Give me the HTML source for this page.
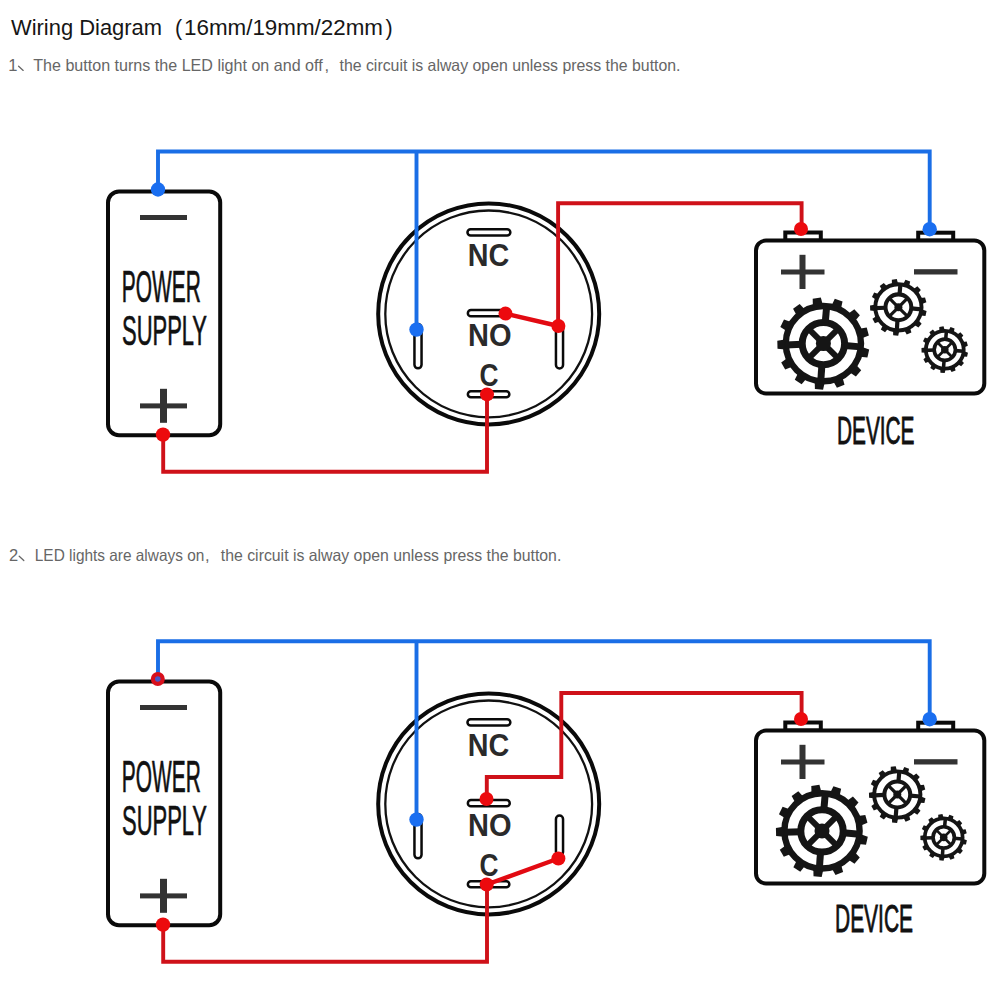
<!DOCTYPE html>
<html><head><meta charset="utf-8">
<style>
html,body{margin:0;padding:0;background:#fff;}
body{width:1000px;height:1000px;position:relative;overflow:hidden;font-family:"Liberation Sans",sans-serif;}
svg{position:absolute;left:0;top:0;}
svg text{font-family:"Liberation Sans",sans-serif;}
</style></head>
<body>
<svg width="1000" height="1000" viewBox="0 0 1000 1000">


<!-- header -->
<g fill="#161616" font-size="21.5">
  <text x="11" y="35" textLength="151" lengthAdjust="spacingAndGlyphs">Wiring Diagram</text>
  <text x="175" y="35">(</text>
  <text x="184" y="35" textLength="199" lengthAdjust="spacingAndGlyphs">16mm/19mm/22mm</text>
  <text x="385.5" y="35">)</text>
</g>
<g fill="#666" font-size="16.5">
  <text x="8.3" y="70.6">1</text>
  <text x="33.2" y="70.6" textLength="289.5" lengthAdjust="spacingAndGlyphs">The button turns the LED light on and off</text>
  <text x="324.5" y="70.6">,</text>
  <text x="339.5" y="70.6" textLength="341" lengthAdjust="spacingAndGlyphs">the circuit is alway open unless press the button.</text>
  <text x="9" y="560.7">2</text>
  <text x="34.8" y="560.7" textLength="169.5" lengthAdjust="spacingAndGlyphs">LED lights are always on</text>
  <text x="205" y="560.7">,</text>
  <text x="220.8" y="560.7" textLength="340.5" lengthAdjust="spacingAndGlyphs">the circuit is alway open unless press the button.</text>
</g>
<g stroke="#666" stroke-width="1.3" stroke-linecap="round" fill="none">
  <path d="M18.6,66.2 L23.2,70.4"/>
  <path d="M19.2,556.3 L23.8,560.5"/>
</g>

<!-- ============ DIAGRAM 1 ============ -->
<g>
  <rect x="108" y="191.5" width="112.2" height="243.7" rx="11" fill="none" stroke="#0a0a0a" stroke-width="4"/>
  <rect x="140" y="215" width="47" height="5" fill="#333"/>
  <rect x="140" y="403.4" width="47" height="5" fill="#333"/>
  <rect x="160" y="388.8" width="7" height="34" fill="#333"/>
  <text x="121.8" y="301.6" font-size="44.5" textLength="79" lengthAdjust="spacingAndGlyphs" fill="#111" stroke="#111" stroke-width="0.7">POWER</text>
  <text x="122" y="345.2" font-size="43" textLength="85" lengthAdjust="spacingAndGlyphs" fill="#111" stroke="#111" stroke-width="0.7">SUPPLY</text>
</g>
<g>
  <circle cx="488.7" cy="313.9" r="110.5" fill="none" stroke="#0a0a0a" stroke-width="4"/>
  <circle cx="488.7" cy="313.9" r="103.4" fill="none" stroke="#111" stroke-width="2.3"/>
  <rect x="467.45" y="229.15" width="42.9" height="6.4" rx="3.2" fill="#fff" stroke="#0a0a0a" stroke-width="2.5"/>
  <rect x="467.85" y="310.05" width="41.9" height="6.3" rx="3.15" fill="#fff" stroke="#0a0a0a" stroke-width="2.5"/>
  <rect x="467.85" y="391.25" width="41.5" height="6" rx="3" fill="#fff" stroke="#0a0a0a" stroke-width="2.5"/>
  <rect x="414.45" y="324" width="7.1" height="44.3" rx="3.55" fill="#fff" stroke="#0a0a0a" stroke-width="2.5"/>
  <text x="467.8" y="266.2" font-size="31" font-weight="bold" textLength="41.5" lengthAdjust="spacingAndGlyphs" fill="#2a2a2a">NC</text>
  <text x="468" y="345.7" font-size="31" font-weight="bold" textLength="43.5" lengthAdjust="spacingAndGlyphs" fill="#2a2a2a">NO</text>
  <text x="479.6" y="385.5" font-size="31" font-weight="bold" textLength="19" lengthAdjust="spacingAndGlyphs" fill="#2a2a2a">C</text>
</g>
<rect x="555.95" y="322" width="7.1" height="46.5" rx="3.55" fill="#fff" stroke="#0a0a0a" stroke-width="2.5"/>
<g>
  <rect x="785.3" y="232.5" width="35.5" height="8" fill="#fff" stroke="#0a0a0a" stroke-width="4"/>
  <rect x="918.2" y="232.7" width="35" height="8" fill="#fff" stroke="#0a0a0a" stroke-width="4"/>
  <rect x="756" y="240.5" width="228.3" height="153" rx="10" fill="#fff" stroke="#0a0a0a" stroke-width="4"/>
  <rect x="781" y="269.5" width="43.5" height="5" fill="#333"/>
  <rect x="799.5" y="254.8" width="6" height="34.2" fill="#333"/>
  <rect x="914" y="269.2" width="43.5" height="5.3" fill="#333"/>
</g>
<g transform="translate(823.4,343.6)" fill="#151515">
<circle r="37.6" fill="none" stroke="#151515" stroke-width="6.4"/>
<circle r="21.2" fill="none" stroke="#151515" stroke-width="7.0"/>
<path d="M-5.00,-38.50 L-4.10,-46.00 L4.10,-46.00 L5.00,-38.50 Z" transform="rotate(-8.3)"/>
<path d="M-5.00,-38.50 L-4.10,-46.00 L4.10,-46.00 L5.00,-38.50 Z" transform="rotate(19.4)"/>
<path d="M-5.00,-38.50 L-4.10,-46.00 L4.10,-46.00 L5.00,-38.50 Z" transform="rotate(47.1)"/>
<path d="M-5.00,-38.50 L-4.10,-46.00 L4.10,-46.00 L5.00,-38.50 Z" transform="rotate(74.8)"/>
<path d="M-5.00,-38.50 L-4.10,-46.00 L4.10,-46.00 L5.00,-38.50 Z" transform="rotate(102.5)"/>
<path d="M-5.00,-38.50 L-4.10,-46.00 L4.10,-46.00 L5.00,-38.50 Z" transform="rotate(130.2)"/>
<path d="M-5.00,-38.50 L-4.10,-46.00 L4.10,-46.00 L5.00,-38.50 Z" transform="rotate(157.9)"/>
<path d="M-5.00,-38.50 L-4.10,-46.00 L4.10,-46.00 L5.00,-38.50 Z" transform="rotate(185.5)"/>
<path d="M-5.00,-38.50 L-4.10,-46.00 L4.10,-46.00 L5.00,-38.50 Z" transform="rotate(213.2)"/>
<path d="M-5.00,-38.50 L-4.10,-46.00 L4.10,-46.00 L5.00,-38.50 Z" transform="rotate(240.9)"/>
<path d="M-5.00,-38.50 L-4.10,-46.00 L4.10,-46.00 L5.00,-38.50 Z" transform="rotate(268.6)"/>
<path d="M-5.00,-38.50 L-4.10,-46.00 L4.10,-46.00 L5.00,-38.50 Z" transform="rotate(296.3)"/>
<path d="M-5.00,-38.50 L-4.10,-46.00 L4.10,-46.00 L5.00,-38.50 Z" transform="rotate(324.0)"/>
<rect x="-3.5" y="-37.6" width="7" height="16.400000000000002" transform="rotate(5)"/>
<rect x="-3.5" y="-37.6" width="7" height="16.400000000000002" transform="rotate(95)"/>
<rect x="-3.5" y="-37.6" width="7" height="16.400000000000002" transform="rotate(184)"/>
<rect x="-3.5" y="-37.6" width="7" height="16.400000000000002" transform="rotate(268)"/>
<rect x="-3.0" y="-21.2" width="6.0" height="21.2" transform="rotate(45)"/>
<rect x="-3.0" y="-21.2" width="6.0" height="21.2" transform="rotate(135)"/>
<rect x="-3.0" y="-21.2" width="6.0" height="21.2" transform="rotate(225)"/>
<rect x="-3.0" y="-21.2" width="6.0" height="21.2" transform="rotate(315)"/>
<circle r="7.5"/>
</g>
<g transform="translate(898.4,307.3) scale(0.615)" fill="#151515">
<circle r="37.6" fill="none" stroke="#151515" stroke-width="6.4"/>
<circle r="21.0" fill="none" stroke="#151515" stroke-width="6.6"/>
<path d="M-5.00,-38.50 L-4.10,-46.00 L4.10,-46.00 L5.00,-38.50 Z" transform="rotate(-8.3)"/>
<path d="M-5.00,-38.50 L-4.10,-46.00 L4.10,-46.00 L5.00,-38.50 Z" transform="rotate(19.4)"/>
<path d="M-5.00,-38.50 L-4.10,-46.00 L4.10,-46.00 L5.00,-38.50 Z" transform="rotate(47.1)"/>
<path d="M-5.00,-38.50 L-4.10,-46.00 L4.10,-46.00 L5.00,-38.50 Z" transform="rotate(74.8)"/>
<path d="M-5.00,-38.50 L-4.10,-46.00 L4.10,-46.00 L5.00,-38.50 Z" transform="rotate(102.5)"/>
<path d="M-5.00,-38.50 L-4.10,-46.00 L4.10,-46.00 L5.00,-38.50 Z" transform="rotate(130.2)"/>
<path d="M-5.00,-38.50 L-4.10,-46.00 L4.10,-46.00 L5.00,-38.50 Z" transform="rotate(157.9)"/>
<path d="M-5.00,-38.50 L-4.10,-46.00 L4.10,-46.00 L5.00,-38.50 Z" transform="rotate(185.5)"/>
<path d="M-5.00,-38.50 L-4.10,-46.00 L4.10,-46.00 L5.00,-38.50 Z" transform="rotate(213.2)"/>
<path d="M-5.00,-38.50 L-4.10,-46.00 L4.10,-46.00 L5.00,-38.50 Z" transform="rotate(240.9)"/>
<path d="M-5.00,-38.50 L-4.10,-46.00 L4.10,-46.00 L5.00,-38.50 Z" transform="rotate(268.6)"/>
<path d="M-5.00,-38.50 L-4.10,-46.00 L4.10,-46.00 L5.00,-38.50 Z" transform="rotate(296.3)"/>
<path d="M-5.00,-38.50 L-4.10,-46.00 L4.10,-46.00 L5.00,-38.50 Z" transform="rotate(324.0)"/>
<rect x="-3.4" y="-37.6" width="6.8" height="16.6" transform="rotate(5)"/>
<rect x="-3.4" y="-37.6" width="6.8" height="16.6" transform="rotate(95)"/>
<rect x="-3.4" y="-37.6" width="6.8" height="16.6" transform="rotate(184)"/>
<rect x="-3.4" y="-37.6" width="6.8" height="16.6" transform="rotate(268)"/>
<rect x="-2.6" y="-21.0" width="5.2" height="21.0" transform="rotate(45)"/>
<rect x="-2.6" y="-21.0" width="5.2" height="21.0" transform="rotate(135)"/>
<rect x="-2.6" y="-21.0" width="5.2" height="21.0" transform="rotate(225)"/>
<rect x="-2.6" y="-21.0" width="5.2" height="21.0" transform="rotate(315)"/>
<circle r="6.5"/>
</g>
<g transform="translate(944.8,349.7) scale(0.506)" fill="#151515">
<circle r="37.4" fill="none" stroke="#151515" stroke-width="7.4"/>
<circle r="21.0" fill="none" stroke="#151515" stroke-width="7.2"/>
<path d="M-5.25,-38.50 L-4.25,-46.00 L4.25,-46.00 L5.25,-38.50 Z" transform="rotate(-8.3)"/>
<path d="M-5.25,-38.50 L-4.25,-46.00 L4.25,-46.00 L5.25,-38.50 Z" transform="rotate(19.4)"/>
<path d="M-5.25,-38.50 L-4.25,-46.00 L4.25,-46.00 L5.25,-38.50 Z" transform="rotate(47.1)"/>
<path d="M-5.25,-38.50 L-4.25,-46.00 L4.25,-46.00 L5.25,-38.50 Z" transform="rotate(74.8)"/>
<path d="M-5.25,-38.50 L-4.25,-46.00 L4.25,-46.00 L5.25,-38.50 Z" transform="rotate(102.5)"/>
<path d="M-5.25,-38.50 L-4.25,-46.00 L4.25,-46.00 L5.25,-38.50 Z" transform="rotate(130.2)"/>
<path d="M-5.25,-38.50 L-4.25,-46.00 L4.25,-46.00 L5.25,-38.50 Z" transform="rotate(157.9)"/>
<path d="M-5.25,-38.50 L-4.25,-46.00 L4.25,-46.00 L5.25,-38.50 Z" transform="rotate(185.5)"/>
<path d="M-5.25,-38.50 L-4.25,-46.00 L4.25,-46.00 L5.25,-38.50 Z" transform="rotate(213.2)"/>
<path d="M-5.25,-38.50 L-4.25,-46.00 L4.25,-46.00 L5.25,-38.50 Z" transform="rotate(240.9)"/>
<path d="M-5.25,-38.50 L-4.25,-46.00 L4.25,-46.00 L5.25,-38.50 Z" transform="rotate(268.6)"/>
<path d="M-5.25,-38.50 L-4.25,-46.00 L4.25,-46.00 L5.25,-38.50 Z" transform="rotate(296.3)"/>
<path d="M-5.25,-38.50 L-4.25,-46.00 L4.25,-46.00 L5.25,-38.50 Z" transform="rotate(324.0)"/>
<rect x="-3.5" y="-37.4" width="7" height="16.4" transform="rotate(5)"/>
<rect x="-3.5" y="-37.4" width="7" height="16.4" transform="rotate(95)"/>
<rect x="-3.5" y="-37.4" width="7" height="16.4" transform="rotate(184)"/>
<rect x="-3.5" y="-37.4" width="7" height="16.4" transform="rotate(268)"/>
<rect x="-2.7" y="-21.0" width="5.4" height="21.0" transform="rotate(45)"/>
<rect x="-2.7" y="-21.0" width="5.4" height="21.0" transform="rotate(135)"/>
<rect x="-2.7" y="-21.0" width="5.4" height="21.0" transform="rotate(225)"/>
<rect x="-2.7" y="-21.0" width="5.4" height="21.0" transform="rotate(315)"/>
<circle r="7.5"/>
</g>
<text x="837" y="444" font-size="39" textLength="77.5" lengthAdjust="spacingAndGlyphs" fill="#111" stroke="#111" stroke-width="0.9">DEVICE</text>

<g fill="none" stroke-width="3.9" stroke-linejoin="miter">
  <polyline points="158,189.5 158,151.5 929.7,151.5 929.7,229" stroke="#1a6ee6"/>
  <polyline points="416.5,151.5 416.5,329.6" stroke="#1a6ee6"/>
  <polyline points="163.2,434.6 163.2,471.8 487,471.8 487,394.4" stroke="#cf1119"/>
  <polyline points="558.1,326 558.1,203.2 801.6,203.2 801.6,229" stroke="#cf1119"/>
  <polyline points="505.5,313.6 558.4,326" stroke="#e20a12" stroke-width="4.5"/>
</g>
<g fill="#1a6ef0">
  <circle cx="158" cy="189.5" r="7.2"/>
  <circle cx="416.5" cy="329.6" r="7.2"/>
  <circle cx="929.7" cy="229.2" r="7.2"/>
</g>
<g fill="#ec0a0e">
  <circle cx="163" cy="434.6" r="7.2"/>
  <circle cx="487" cy="394.4" r="7"/>
  <circle cx="505.5" cy="313.6" r="7"/>
  <circle cx="558.4" cy="326" r="7"/>
  <circle cx="801" cy="229" r="7"/>
</g>

<!-- ============ DIAGRAM 2 ============ -->
<g transform="translate(0,490)">
  <g>
  <rect x="108" y="191.5" width="112.2" height="243.7" rx="11" fill="none" stroke="#0a0a0a" stroke-width="4"/>
  <rect x="140" y="215" width="47" height="5" fill="#333"/>
  <rect x="140" y="403.4" width="47" height="5" fill="#333"/>
  <rect x="160" y="388.8" width="7" height="34" fill="#333"/>
  <text x="121.8" y="301.6" font-size="44.5" textLength="79" lengthAdjust="spacingAndGlyphs" fill="#111" stroke="#111" stroke-width="0.7">POWER</text>
  <text x="122" y="345.2" font-size="43" textLength="85" lengthAdjust="spacingAndGlyphs" fill="#111" stroke="#111" stroke-width="0.7">SUPPLY</text>
</g>
  <g>
  <circle cx="488.7" cy="313.9" r="110.5" fill="none" stroke="#0a0a0a" stroke-width="4"/>
  <circle cx="488.7" cy="313.9" r="103.4" fill="none" stroke="#111" stroke-width="2.3"/>
  <rect x="467.45" y="229.15" width="42.9" height="6.4" rx="3.2" fill="#fff" stroke="#0a0a0a" stroke-width="2.5"/>
  <rect x="467.85" y="310.05" width="41.9" height="6.3" rx="3.15" fill="#fff" stroke="#0a0a0a" stroke-width="2.5"/>
  <rect x="467.85" y="391.25" width="41.5" height="6" rx="3" fill="#fff" stroke="#0a0a0a" stroke-width="2.5"/>
  <rect x="414.45" y="324" width="7.1" height="44.3" rx="3.55" fill="#fff" stroke="#0a0a0a" stroke-width="2.5"/>
  <text x="467.8" y="266.2" font-size="31" font-weight="bold" textLength="41.5" lengthAdjust="spacingAndGlyphs" fill="#2a2a2a">NC</text>
  <text x="468" y="345.7" font-size="31" font-weight="bold" textLength="43.5" lengthAdjust="spacingAndGlyphs" fill="#2a2a2a">NO</text>
  <text x="479.6" y="385.5" font-size="31" font-weight="bold" textLength="19" lengthAdjust="spacingAndGlyphs" fill="#2a2a2a">C</text>
</g>
  <rect x="555.95" y="325.5" width="7.1" height="40" rx="3.55" fill="#fff" stroke="#0a0a0a" stroke-width="2.5"/>
  <g>
  <rect x="785.3" y="232.5" width="35.5" height="8" fill="#fff" stroke="#0a0a0a" stroke-width="4"/>
  <rect x="918.2" y="232.7" width="35" height="8" fill="#fff" stroke="#0a0a0a" stroke-width="4"/>
  <rect x="756" y="240.5" width="228.3" height="153" rx="10" fill="#fff" stroke="#0a0a0a" stroke-width="4"/>
  <rect x="781" y="269.5" width="43.5" height="5" fill="#333"/>
  <rect x="799.5" y="254.8" width="6" height="34.2" fill="#333"/>
  <rect x="914" y="269.2" width="43.5" height="5.3" fill="#333"/>
</g>
</g>
<g transform="translate(822,830.9)" fill="#151515">
<circle r="37.6" fill="none" stroke="#151515" stroke-width="6.4"/>
<circle r="21.2" fill="none" stroke="#151515" stroke-width="7.0"/>
<path d="M-5.00,-38.50 L-4.10,-46.00 L4.10,-46.00 L5.00,-38.50 Z" transform="rotate(-8.3)"/>
<path d="M-5.00,-38.50 L-4.10,-46.00 L4.10,-46.00 L5.00,-38.50 Z" transform="rotate(19.4)"/>
<path d="M-5.00,-38.50 L-4.10,-46.00 L4.10,-46.00 L5.00,-38.50 Z" transform="rotate(47.1)"/>
<path d="M-5.00,-38.50 L-4.10,-46.00 L4.10,-46.00 L5.00,-38.50 Z" transform="rotate(74.8)"/>
<path d="M-5.00,-38.50 L-4.10,-46.00 L4.10,-46.00 L5.00,-38.50 Z" transform="rotate(102.5)"/>
<path d="M-5.00,-38.50 L-4.10,-46.00 L4.10,-46.00 L5.00,-38.50 Z" transform="rotate(130.2)"/>
<path d="M-5.00,-38.50 L-4.10,-46.00 L4.10,-46.00 L5.00,-38.50 Z" transform="rotate(157.9)"/>
<path d="M-5.00,-38.50 L-4.10,-46.00 L4.10,-46.00 L5.00,-38.50 Z" transform="rotate(185.5)"/>
<path d="M-5.00,-38.50 L-4.10,-46.00 L4.10,-46.00 L5.00,-38.50 Z" transform="rotate(213.2)"/>
<path d="M-5.00,-38.50 L-4.10,-46.00 L4.10,-46.00 L5.00,-38.50 Z" transform="rotate(240.9)"/>
<path d="M-5.00,-38.50 L-4.10,-46.00 L4.10,-46.00 L5.00,-38.50 Z" transform="rotate(268.6)"/>
<path d="M-5.00,-38.50 L-4.10,-46.00 L4.10,-46.00 L5.00,-38.50 Z" transform="rotate(296.3)"/>
<path d="M-5.00,-38.50 L-4.10,-46.00 L4.10,-46.00 L5.00,-38.50 Z" transform="rotate(324.0)"/>
<rect x="-3.5" y="-37.6" width="7" height="16.400000000000002" transform="rotate(5)"/>
<rect x="-3.5" y="-37.6" width="7" height="16.400000000000002" transform="rotate(95)"/>
<rect x="-3.5" y="-37.6" width="7" height="16.400000000000002" transform="rotate(184)"/>
<rect x="-3.5" y="-37.6" width="7" height="16.400000000000002" transform="rotate(268)"/>
<rect x="-3.0" y="-21.2" width="6.0" height="21.2" transform="rotate(45)"/>
<rect x="-3.0" y="-21.2" width="6.0" height="21.2" transform="rotate(135)"/>
<rect x="-3.0" y="-21.2" width="6.0" height="21.2" transform="rotate(225)"/>
<rect x="-3.0" y="-21.2" width="6.0" height="21.2" transform="rotate(315)"/>
<circle r="7.5"/>
</g>
<g transform="translate(897.3,794.5) scale(0.615)" fill="#151515">
<circle r="37.6" fill="none" stroke="#151515" stroke-width="6.4"/>
<circle r="21.0" fill="none" stroke="#151515" stroke-width="6.6"/>
<path d="M-5.00,-38.50 L-4.10,-46.00 L4.10,-46.00 L5.00,-38.50 Z" transform="rotate(-8.3)"/>
<path d="M-5.00,-38.50 L-4.10,-46.00 L4.10,-46.00 L5.00,-38.50 Z" transform="rotate(19.4)"/>
<path d="M-5.00,-38.50 L-4.10,-46.00 L4.10,-46.00 L5.00,-38.50 Z" transform="rotate(47.1)"/>
<path d="M-5.00,-38.50 L-4.10,-46.00 L4.10,-46.00 L5.00,-38.50 Z" transform="rotate(74.8)"/>
<path d="M-5.00,-38.50 L-4.10,-46.00 L4.10,-46.00 L5.00,-38.50 Z" transform="rotate(102.5)"/>
<path d="M-5.00,-38.50 L-4.10,-46.00 L4.10,-46.00 L5.00,-38.50 Z" transform="rotate(130.2)"/>
<path d="M-5.00,-38.50 L-4.10,-46.00 L4.10,-46.00 L5.00,-38.50 Z" transform="rotate(157.9)"/>
<path d="M-5.00,-38.50 L-4.10,-46.00 L4.10,-46.00 L5.00,-38.50 Z" transform="rotate(185.5)"/>
<path d="M-5.00,-38.50 L-4.10,-46.00 L4.10,-46.00 L5.00,-38.50 Z" transform="rotate(213.2)"/>
<path d="M-5.00,-38.50 L-4.10,-46.00 L4.10,-46.00 L5.00,-38.50 Z" transform="rotate(240.9)"/>
<path d="M-5.00,-38.50 L-4.10,-46.00 L4.10,-46.00 L5.00,-38.50 Z" transform="rotate(268.6)"/>
<path d="M-5.00,-38.50 L-4.10,-46.00 L4.10,-46.00 L5.00,-38.50 Z" transform="rotate(296.3)"/>
<path d="M-5.00,-38.50 L-4.10,-46.00 L4.10,-46.00 L5.00,-38.50 Z" transform="rotate(324.0)"/>
<rect x="-3.4" y="-37.6" width="6.8" height="16.6" transform="rotate(5)"/>
<rect x="-3.4" y="-37.6" width="6.8" height="16.6" transform="rotate(95)"/>
<rect x="-3.4" y="-37.6" width="6.8" height="16.6" transform="rotate(184)"/>
<rect x="-3.4" y="-37.6" width="6.8" height="16.6" transform="rotate(268)"/>
<rect x="-2.6" y="-21.0" width="5.2" height="21.0" transform="rotate(45)"/>
<rect x="-2.6" y="-21.0" width="5.2" height="21.0" transform="rotate(135)"/>
<rect x="-2.6" y="-21.0" width="5.2" height="21.0" transform="rotate(225)"/>
<rect x="-2.6" y="-21.0" width="5.2" height="21.0" transform="rotate(315)"/>
<circle r="6.5"/>
</g>
<g transform="translate(943.7,837.4) scale(0.506)" fill="#151515">
<circle r="37.4" fill="none" stroke="#151515" stroke-width="7.4"/>
<circle r="21.0" fill="none" stroke="#151515" stroke-width="7.2"/>
<path d="M-5.25,-38.50 L-4.25,-46.00 L4.25,-46.00 L5.25,-38.50 Z" transform="rotate(-8.3)"/>
<path d="M-5.25,-38.50 L-4.25,-46.00 L4.25,-46.00 L5.25,-38.50 Z" transform="rotate(19.4)"/>
<path d="M-5.25,-38.50 L-4.25,-46.00 L4.25,-46.00 L5.25,-38.50 Z" transform="rotate(47.1)"/>
<path d="M-5.25,-38.50 L-4.25,-46.00 L4.25,-46.00 L5.25,-38.50 Z" transform="rotate(74.8)"/>
<path d="M-5.25,-38.50 L-4.25,-46.00 L4.25,-46.00 L5.25,-38.50 Z" transform="rotate(102.5)"/>
<path d="M-5.25,-38.50 L-4.25,-46.00 L4.25,-46.00 L5.25,-38.50 Z" transform="rotate(130.2)"/>
<path d="M-5.25,-38.50 L-4.25,-46.00 L4.25,-46.00 L5.25,-38.50 Z" transform="rotate(157.9)"/>
<path d="M-5.25,-38.50 L-4.25,-46.00 L4.25,-46.00 L5.25,-38.50 Z" transform="rotate(185.5)"/>
<path d="M-5.25,-38.50 L-4.25,-46.00 L4.25,-46.00 L5.25,-38.50 Z" transform="rotate(213.2)"/>
<path d="M-5.25,-38.50 L-4.25,-46.00 L4.25,-46.00 L5.25,-38.50 Z" transform="rotate(240.9)"/>
<path d="M-5.25,-38.50 L-4.25,-46.00 L4.25,-46.00 L5.25,-38.50 Z" transform="rotate(268.6)"/>
<path d="M-5.25,-38.50 L-4.25,-46.00 L4.25,-46.00 L5.25,-38.50 Z" transform="rotate(296.3)"/>
<path d="M-5.25,-38.50 L-4.25,-46.00 L4.25,-46.00 L5.25,-38.50 Z" transform="rotate(324.0)"/>
<rect x="-3.5" y="-37.4" width="7" height="16.4" transform="rotate(5)"/>
<rect x="-3.5" y="-37.4" width="7" height="16.4" transform="rotate(95)"/>
<rect x="-3.5" y="-37.4" width="7" height="16.4" transform="rotate(184)"/>
<rect x="-3.5" y="-37.4" width="7" height="16.4" transform="rotate(268)"/>
<rect x="-2.7" y="-21.0" width="5.4" height="21.0" transform="rotate(45)"/>
<rect x="-2.7" y="-21.0" width="5.4" height="21.0" transform="rotate(135)"/>
<rect x="-2.7" y="-21.0" width="5.4" height="21.0" transform="rotate(225)"/>
<rect x="-2.7" y="-21.0" width="5.4" height="21.0" transform="rotate(315)"/>
<circle r="7.5"/>
</g>
<text x="835" y="932" font-size="39" textLength="78" lengthAdjust="spacingAndGlyphs" fill="#111" stroke="#111" stroke-width="0.9">DEVICE</text>

<g fill="none" stroke-width="3.9" stroke-linejoin="miter">
  <polyline points="158,679 158,641.2 929.7,641.2 929.7,719" stroke="#1a6ee6"/>
  <polyline points="416.5,641.2 416.5,819.6" stroke="#1a6ee6"/>
  <polyline points="163.2,924.6 163.2,961.8 487,961.8 487,884.5" stroke="#cf1119"/>
  <polyline points="486.8,799 486.8,777 561.3,777 561.3,693 801.6,693 801.6,719" stroke="#cf1119"/>
  <polyline points="486.7,884.5 558.4,858.5" stroke="#e20a12" stroke-width="4.5"/>
</g>
<g fill="#1a6ef0">
  <circle cx="416.5" cy="819.6" r="7.2"/>
  <circle cx="929.7" cy="719.2" r="7.2"/>
</g>
<circle cx="157.8" cy="679" r="7" fill="#d8101c"/>
<g fill="#ec0a0e">
  <circle cx="163" cy="924.6" r="7.2"/>
  <circle cx="486.7" cy="884.5" r="7"/>
  <circle cx="558.4" cy="858.5" r="7"/>
  <circle cx="486.5" cy="799" r="7"/>
  <circle cx="801" cy="719" r="7"/>
</g>
<circle cx="157.8" cy="679" r="2.8" fill="#4a58c8"/>
</svg>
</body></html>
